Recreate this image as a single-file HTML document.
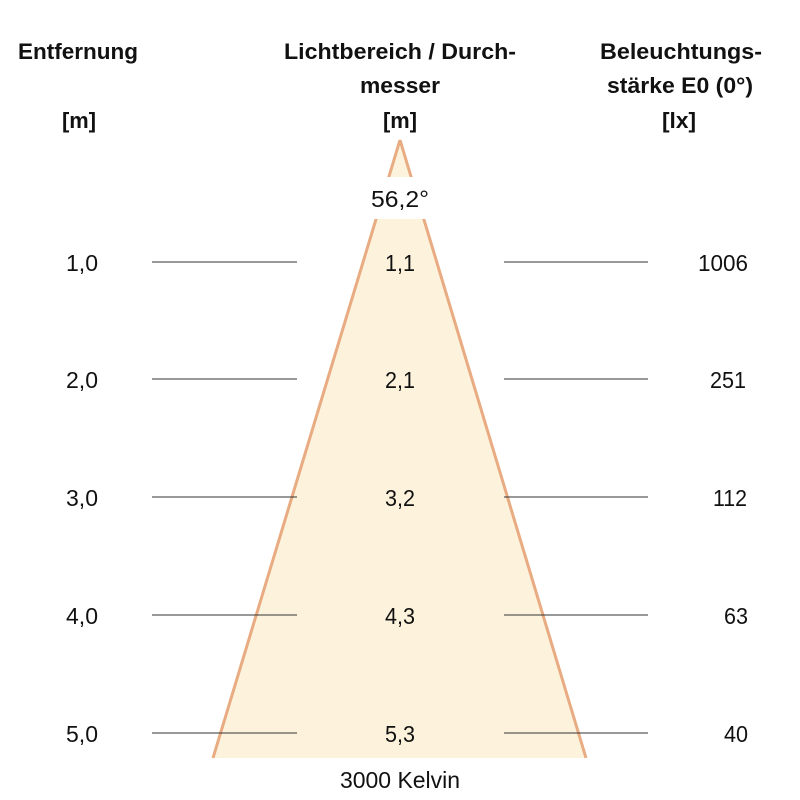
<!DOCTYPE html>
<html><head><style>body{margin:0;background:#fff}svg{display:block}</style></head>
<body>
<svg width="800" height="800" xmlns="http://www.w3.org/2000/svg" font-family="Liberation Sans, Arial, sans-serif">
<polygon points="400,140 213,758 586,758" fill="#fdf3dc"/>
<line x1="400" y1="140" x2="213" y2="758" stroke="#e8ab82" stroke-width="3"/>
<line x1="400" y1="140" x2="586" y2="758" stroke="#e8ab82" stroke-width="3"/>
<rect x="366" y="177" width="68" height="42" fill="#fff" rx="8"/>
<g stroke="#333" stroke-width="1">
<line x1="152" y1="262" x2="297" y2="262"/><line x1="504" y1="262" x2="648" y2="262"/>
<line x1="152" y1="379" x2="297" y2="379"/><line x1="504" y1="379" x2="648" y2="379"/>
<line x1="152" y1="497" x2="297" y2="497"/><line x1="504" y1="497" x2="648" y2="497"/>
<line x1="152" y1="615" x2="297" y2="615"/><line x1="504" y1="615" x2="648" y2="615"/>
<line x1="152" y1="733" x2="297" y2="733"/><line x1="504" y1="733" x2="648" y2="733"/>
</g>
<g font-weight="bold" font-size="22" fill="#111" text-anchor="middle">
<text x="78" y="59" textLength="120" lengthAdjust="spacingAndGlyphs">Entfernung</text>
<text x="79" y="128" textLength="34" lengthAdjust="spacingAndGlyphs">[m]</text>
<text x="400" y="59" textLength="232" lengthAdjust="spacingAndGlyphs">Lichtbereich / Durch-</text>
<text x="400" y="93" textLength="80" lengthAdjust="spacingAndGlyphs">messer</text>
<text x="400" y="128" textLength="34" lengthAdjust="spacingAndGlyphs">[m]</text>
<text x="681" y="59" textLength="162" lengthAdjust="spacingAndGlyphs">Beleuchtungs-</text>
<text x="680" y="93" textLength="146" lengthAdjust="spacingAndGlyphs">stärke E0 (0°)</text>
<text x="679" y="128" textLength="34" lengthAdjust="spacingAndGlyphs">[lx]</text>
</g>
<g font-size="23" fill="#111" text-anchor="middle">
<text x="400" y="207" textLength="58" lengthAdjust="spacingAndGlyphs">56,2°</text>
<text x="82" y="271" textLength="32" lengthAdjust="spacingAndGlyphs">1,0</text><text x="400" y="271" textLength="30" lengthAdjust="spacingAndGlyphs">1,1</text><text x="723" y="271" textLength="50" lengthAdjust="spacingAndGlyphs">1006</text>
<text x="82" y="388" textLength="32" lengthAdjust="spacingAndGlyphs">2,0</text><text x="400" y="388" textLength="30" lengthAdjust="spacingAndGlyphs">2,1</text><text x="728" y="388" textLength="36" lengthAdjust="spacingAndGlyphs">251</text>
<text x="82" y="506" textLength="32" lengthAdjust="spacingAndGlyphs">3,0</text><text x="400" y="506" textLength="30" lengthAdjust="spacingAndGlyphs">3,2</text><text x="730" y="506" textLength="34" lengthAdjust="spacingAndGlyphs">112</text>
<text x="82" y="624" textLength="32" lengthAdjust="spacingAndGlyphs">4,0</text><text x="400" y="624" textLength="30" lengthAdjust="spacingAndGlyphs">4,3</text><text x="736" y="624" textLength="24" lengthAdjust="spacingAndGlyphs">63</text>
<text x="82" y="742" textLength="32" lengthAdjust="spacingAndGlyphs">5,0</text><text x="400" y="742" textLength="30" lengthAdjust="spacingAndGlyphs">5,3</text><text x="736" y="742" textLength="24" lengthAdjust="spacingAndGlyphs">40</text>
<text x="400" y="788" textLength="120" lengthAdjust="spacingAndGlyphs">3000 Kelvin</text>
</g>
</svg>
</body></html>
